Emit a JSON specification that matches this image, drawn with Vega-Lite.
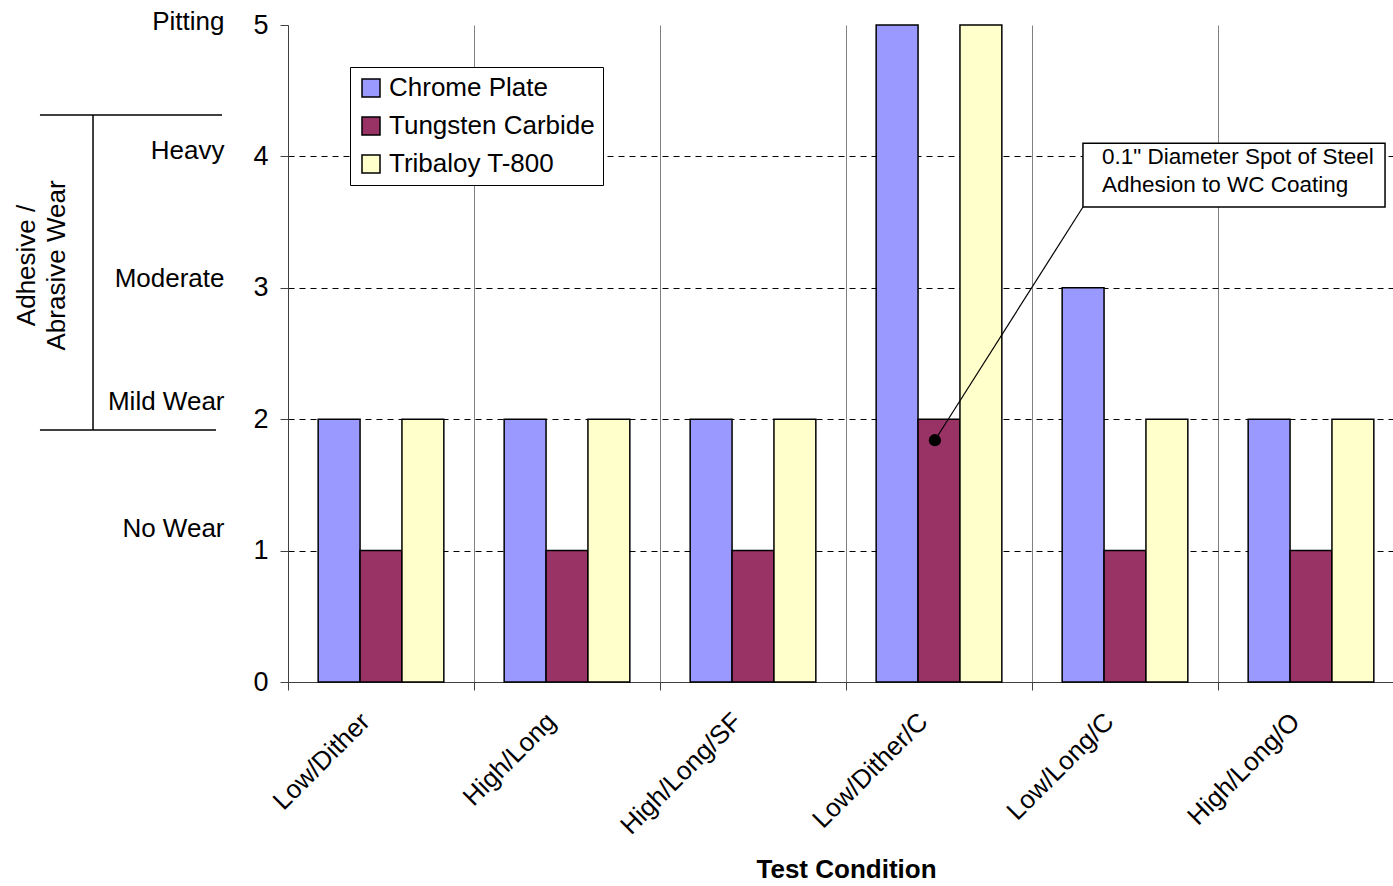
{
  "$schema": "https://vega.github.io/schema/vega-lite/v6.json",
  "background": "white",
  "padding": {"left": 0, "top": 8, "right": 0, "bottom": 0},
  "config": {"font": "Liberation Sans", "view": {"stroke": null}},
  "bounds": "flush",
  "spacing": 66,
  "hconcat": [
    {
      "width": 222,
      "height": 657,
      "data": {"values": [{"range": "Adhesive / Abrasive Wear", "from": 1.918, "to": 4.315}]},
      "layer": [
        {
          "mark": {"type": "rule", "color": "black", "strokeWidth": 1.5},
          "encoding": {
            "x": {"datum": 0.18, "type": "quantitative", "scale": {"domain": [0, 1]}, "axis": null},
            "x2": {"datum": 1},
            "y": {"field": "to", "type": "quantitative", "scale": {"domain": [0, 5]},
              "axis": {"orient": "right", "values": [1, 2, 3, 4, 5], "title": null, "domain": false, "ticks": false, "grid": false,
                "labelExpr": "['', 'No Wear', 'Mild Wear', 'Moderate', 'Heavy', 'Pitting'][datum.value]",
                "labelAlign": "right", "labelPadding": 2, "labelFontSize": 26, "labelColor": "black", "labelBaseline": "middle",
                "labelOffset": {"condition": [
                  {"test": "datum.value <= 1", "value": -22},
                  {"test": "datum.value <= 2", "value": -18},
                  {"test": "datum.value <= 3", "value": -9},
                  {"test": "datum.value <= 4", "value": -6}
                ], "value": -4}}}
          }
        },
        {
          "mark": {"type": "rule", "color": "black", "strokeWidth": 1.5},
          "encoding": {
            "x": {"datum": 0.18, "type": "quantitative"},
            "x2": {"datum": 0.973},
            "y": {"field": "from", "type": "quantitative"}
          }
        },
        {
          "mark": {"type": "rule", "color": "black", "strokeWidth": 1.5},
          "encoding": {
            "x": {"datum": 0.419, "type": "quantitative"},
            "y": {"field": "from", "type": "quantitative"},
            "y2": {"field": "to"}
          }
        },
        {
          "mark": {"type": "text", "text": ["Adhesive /", "Abrasive Wear"], "angle": 270, "align": "center", "baseline": "middle", "fontSize": 26, "lineHeight": 30, "color": "black"},
          "encoding": {
            "x": {"datum": 0.12, "type": "quantitative"},
            "y": {"datum": 3.17, "type": "quantitative"}
          }
        }
      ]
    },
    {
      "width": 1116,
      "height": 657,
      "layer": [
        {
          "data": {"values": [
            {"condition": "Low/Dither", "coating": "Chrome Plate", "rating": 2},
            {"condition": "Low/Dither", "coating": "Tungsten Carbide", "rating": 1},
            {"condition": "Low/Dither", "coating": "Tribaloy T-800", "rating": 2},
            {"condition": "High/Long", "coating": "Chrome Plate", "rating": 2},
            {"condition": "High/Long", "coating": "Tungsten Carbide", "rating": 1},
            {"condition": "High/Long", "coating": "Tribaloy T-800", "rating": 2},
            {"condition": "High/Long/SF", "coating": "Chrome Plate", "rating": 2},
            {"condition": "High/Long/SF", "coating": "Tungsten Carbide", "rating": 1},
            {"condition": "High/Long/SF", "coating": "Tribaloy T-800", "rating": 2},
            {"condition": "Low/Dither/C", "coating": "Chrome Plate", "rating": 5},
            {"condition": "Low/Dither/C", "coating": "Tungsten Carbide", "rating": 2},
            {"condition": "Low/Dither/C", "coating": "Tribaloy T-800", "rating": 5},
            {"condition": "Low/Long/C", "coating": "Chrome Plate", "rating": 3},
            {"condition": "Low/Long/C", "coating": "Tungsten Carbide", "rating": 1},
            {"condition": "Low/Long/C", "coating": "Tribaloy T-800", "rating": 2},
            {"condition": "High/Long/O", "coating": "Chrome Plate", "rating": 2},
            {"condition": "High/Long/O", "coating": "Tungsten Carbide", "rating": 1},
            {"condition": "High/Long/O", "coating": "Tribaloy T-800", "rating": 2}
          ]},
          "mark": {"type": "bar", "stroke": "black", "strokeWidth": 1.5},
          "encoding": {
            "x": {"field": "condition", "type": "nominal",
              "scale": {"domain": ["Low/Dither", "High/Long", "High/Long/SF", "Low/Dither/C", "Low/Long/C", "High/Long/O"], "paddingInner": 0, "paddingOuter": 0},
              "axis": {"title": "Test Condition", "titleFontSize": 26, "titleFontWeight": "bold", "titleColor": "black", "titlePadding": 18,
                "labelAngle": -45, "labelFontSize": 26, "labelColor": "black", "labelPadding": 18, "labelOffset": -25,
                "tickBand": "extent", "tickSize": 8, "tickColor": "#404040", "domainColor": "#404040",
                "grid": true, "gridColor": "#808080", "gridWidth": 1}},
            "xOffset": {"field": "coating", "type": "nominal",
              "scale": {"domain": ["Chrome Plate", "Tungsten Carbide", "Tribaloy T-800"], "paddingInner": 0, "paddingOuter": 0.72}},
            "y": {"field": "rating", "type": "quantitative",
              "scale": {"domain": [0, 5]},
              "axis": {"values": [0, 1, 2, 3, 4, 5], "format": "d", "title": null, "labelFontSize": 27, "labelColor": "black", "labelPadding": 12,
                "tickSize": 8, "tickColor": "#404040", "domainColor": "#404040",
                "gridDash": [6, 5], "gridColor": "black", "gridWidth": 1,
                "gridOpacity": {"condition": {"test": "datum.value == 0 || datum.value == 5", "value": 0}, "value": 1}}},
            "color": {"field": "coating", "type": "nominal",
              "scale": {"domain": ["Chrome Plate", "Tungsten Carbide", "Tribaloy T-800"], "range": ["#9999FF", "#993366", "#FFFFCC"]},
              "legend": {"orient": "none", "legendX": 350, "legendY": 42, "title": null, "fillColor": "white", "strokeColor": "black",
                "padding": 8, "symbolType": "square", "symbolSize": 324, "symbolStrokeColor": "black", "symbolStrokeWidth": 1.5,
                "symbolOpacity": 1, "labelFontSize": 26, "labelColor": "black", "labelLimit": 400, "rowPadding": 12, "labelOffset": 5}}
          }
        },
        {
          "data": {"values": [{"note": "0.1\" Diameter Spot of Steel Adhesion to WC Coating"}]},
          "mark": {"type": "rect", "fill": "white", "stroke": "black", "strokeWidth": 1.5},
          "encoding": {
            "x": {"datum": "Low/Long/C", "bandPosition": 0.274},
            "x2": {"datum": "High/Long/O", "bandPosition": 0.898},
            "y": {"datum": 4.10, "type": "quantitative"},
            "y2": {"datum": 3.615}
          }
        },
        {
          "data": {"values": [{"note": "0.1\" Diameter Spot of Steel Adhesion to WC Coating"}]},
          "mark": {"type": "text", "text": ["0.1\" Diameter Spot of Steel", "Adhesion to WC Coating"], "align": "left", "baseline": "middle", "fontSize": 22.5, "lineHeight": 28, "color": "black"},
          "encoding": {
            "x": {"datum": "Low/Long/C", "bandPosition": 0.376},
            "y": {"datum": 3.995, "type": "quantitative"}
          }
        },
        {
          "data": {"values": [{"note": "0.1\" Diameter Spot of Steel Adhesion to WC Coating"}]},
          "mark": {"type": "rule", "color": "black", "strokeWidth": 1.2},
          "encoding": {
            "x": {"datum": "Low/Dither/C", "bandPosition": 0.478},
            "y": {"datum": 1.84, "type": "quantitative"},
            "x2": {"datum": "Low/Long/C", "bandPosition": 0.274},
            "y2": {"datum": 3.615}
          }
        },
        {
          "data": {"values": [{"note": "0.1\" Diameter Spot of Steel Adhesion to WC Coating"}]},
          "mark": {"type": "point", "filled": true, "color": "black", "size": 150, "opacity": 1},
          "encoding": {
            "x": {"datum": "Low/Dither/C", "bandPosition": 0.478},
            "y": {"datum": 1.84, "type": "quantitative"}
          }
        }
      ]
    }
  ]
}
